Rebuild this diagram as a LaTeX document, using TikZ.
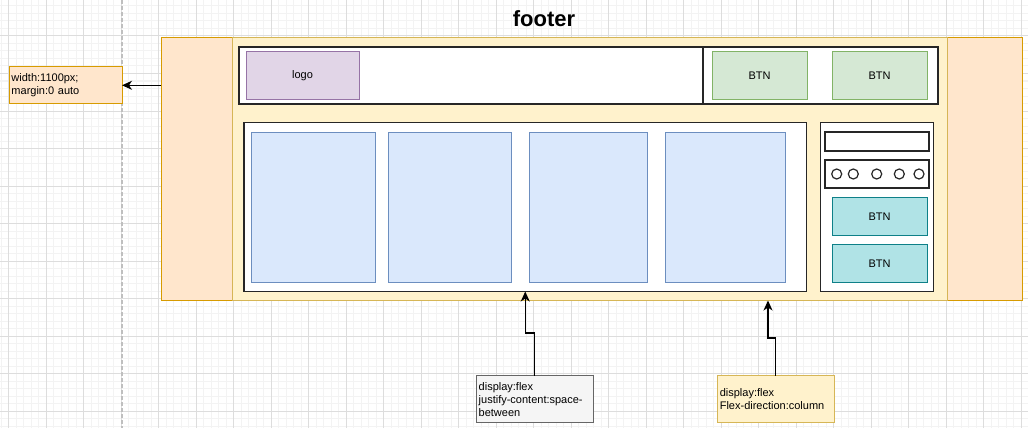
\documentclass[tikz,border=0pt]{standalone}
\usepackage{fontspec}
\setmainfont{Liberation Sans}
\usetikzlibrary{arrows.meta}
\definecolor{orangefill}{HTML}{FFE6CC}
\definecolor{orangeline}{HTML}{D79B00}
\definecolor{yellowfill}{HTML}{FFF2CC}
\definecolor{yellowline}{HTML}{D6B656}
\definecolor{purplefill}{HTML}{E1D5E7}
\definecolor{purpleline}{HTML}{9673A6}
\definecolor{greenfill}{HTML}{D5E8D4}
\definecolor{greenline}{HTML}{82B366}
\definecolor{bluefill}{HTML}{DAE8FC}
\definecolor{blueline}{HTML}{6C8EBF}
\definecolor{tealfill}{HTML}{B0E3E6}
\definecolor{tealline}{HTML}{0E8088}
\definecolor{grayfill}{HTML}{F5F5F5}
\definecolor{grayline}{HTML}{666666}
\definecolor{minorgrid}{HTML}{F3F3F3}
\definecolor{majorgrid}{HTML}{DDDDDD}

\begin{document}
\begin{tikzpicture}[x=1pt, y=-1pt,
  blk/.style={rectangle, draw, line width=1pt, inner sep=0pt, outer sep=0pt},
  frame/.style={blk, fill=white, draw=black!85, line width=1.5pt},
  txt/.style={font=\fontsize{11}{13}\selectfont},
  note/.style={blk, txt, align=left, inner xsep=2.5pt, minimum height=37},
  dot/.style={circle, draw=black!85, line width=1.2pt, minimum size=10, inner sep=0pt},
  arr/.style={line width=1.3pt, -{Stealth[length=10pt, width=9pt, inset=3pt]}}]
\useasboundingbox (0,0) rectangle (1028,428);
\fill[white] (0,0) rectangle (1028,428);
\foreach \i in {-1,...,137} \draw[minorgrid, line width=1pt] ({8.5+7.5*\i},0) -- ({8.5+7.5*\i},428);
\foreach \i in {0,...,58} \draw[minorgrid, line width=1pt] (0,{-1.5+7.5*\i}) -- (1028,{-1.5+7.5*\i});
\foreach \i in {0,...,27} \draw[majorgrid, line width=1pt] ({8.5+37.5*\i},0) -- ({8.5+37.5*\i},428);
\foreach \i in {1,...,11} \draw[majorgrid, line width=1pt] (0,{-1.5+37.5*\i}) -- (1028,{-1.5+37.5*\i});
\draw[black!25, line width=1.5pt, dash pattern=on 4pt off 2pt] (122,0) -- (122,428);

\node[font=\fontsize{22}{26}\selectfont\bfseries] (title) at (544,19) {footer};

\node[blk, fill=orangefill, draw=orangeline, minimum width=861, minimum height=262.5] (outer) at (591.5,169.25) {};
\node[blk, fill=yellowfill, draw=yellowline, minimum width=715, minimum height=262.5] (inner) at (589.5,169.25) {};

\node[frame, minimum width=699, minimum height=57] (header) at (588.5,75.5) {};
\node[frame, minimum width=235, minimum height=57] (btnbar) at (820.5,75.5) {};
\node[blk, txt, fill=purplefill, draw=purpleline, minimum width=113, minimum height=47] (logo) at (302.5,75.5) {logo};
\node[blk, txt, fill=greenfill, draw=greenline, minimum width=95, minimum height=47] (btna) at (759.5,75.5) {BTN};
\node[blk, txt, fill=greenfill, draw=greenline, minimum width=95, minimum height=47] (btnb) at (879.5,75.5) {BTN};

\node[frame, minimum width=562.5, minimum height=169] (content) at (525.25,207) {};
\node[blk, fill=bluefill, draw=blueline, minimum width=124.5, minimum height=150] (cola) at (313.25,207) {};
\node[blk, fill=bluefill, draw=blueline, minimum width=122.7, minimum height=150] (colb) at (450.3,207) {};
\node[blk, fill=bluefill, draw=blueline, minimum width=118, minimum height=150] (colc) at (588.6,207) {};
\node[blk, fill=bluefill, draw=blueline, minimum width=119.6, minimum height=150] (cold) at (725.5,207) {};

\node[frame, minimum width=113, minimum height=169] (side) at (877,207) {};
\node[frame, line width=1.3pt, minimum width=104, minimum height=19] (search) at (877,141.5) {};
\node[frame, line width=1.3pt, minimum width=104, minimum height=28] (dots) at (877,174) {};
\foreach \x [count=\i] in {836.7,853.3,876.7,899.3,919}
  \node[dot] (dot\i) at (\x,174) {};
\node[blk, txt, fill=tealfill, draw=tealline, minimum width=95, minimum height=37.7] (btnc) at (879.5,216.8) {BTN};
\node[blk, txt, fill=tealfill, draw=tealline, minimum width=95, minimum height=38.4] (btnd) at (879.5,263.5) {BTN};

\node[note, fill=orangefill, draw=orangeline, text width=108, minimum width=113] (widthnote) at (65.5,85.3) {width:1100px;\\margin:0 auto};
\node[note, fill=grayfill, draw=grayline, text width=112, minimum width=117.3, minimum height=46.7] (flexnote) at (534.7,399.3) {display:flex\\justify-content:space-\\between};
\node[note, fill=yellowfill, draw=yellowline, text width=112, minimum width=117, minimum height=46.7] (colnote) at (775.8,399.3) {display:flex\\Flex-direction:column\\[4pt]};

\coordinate (coltip) at (768,300.5);
\draw[arr] (outer.west |- widthnote.east) -- (widthnote.east);
\draw[arr] (flexnote.north) -- ++(0,-43) -| (content.south);
\draw[arr] (colnote.north) -- ++(0,-38) -| (coltip);
\end{tikzpicture}
\end{document}
